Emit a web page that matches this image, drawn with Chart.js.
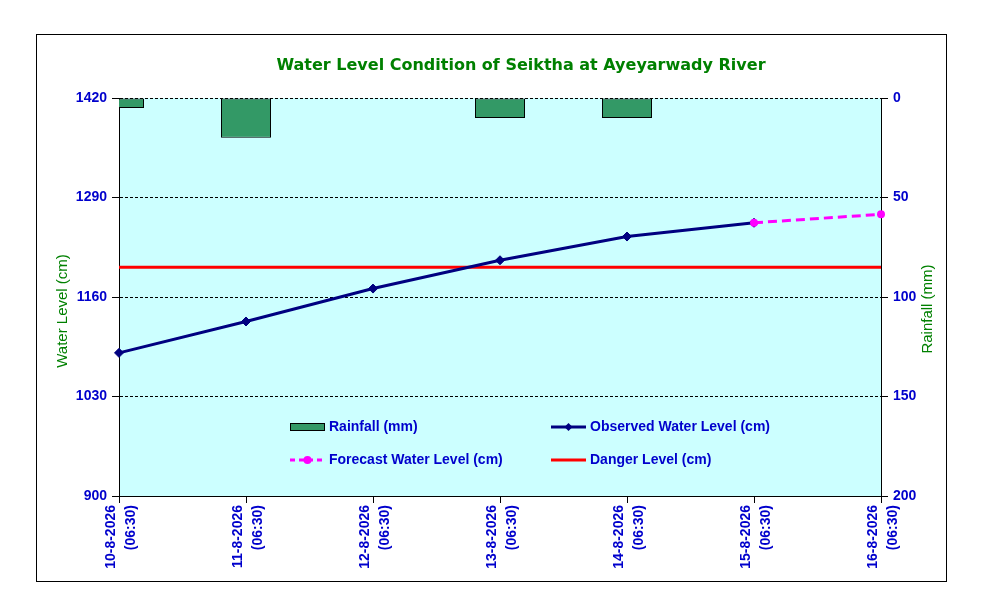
<!DOCTYPE html>
<html><head><meta charset="utf-8">
<script src="https://cdn.jsdelivr.net/npm/chart.js@4"></script>
<style>html,body{margin:0;padding:0;background:#fff}canvas{display:block}</style>
</head><body>
<canvas id="c" width="981" height="605"></canvas>
<script>
// ---- data ----
const dates = ['10-8-2026','11-8-2026','12-8-2026','13-8-2026','14-8-2026','15-8-2026','16-8-2026'];
const times = ['(06:30)','(06:30)','(06:30)','(06:30)','(06:30)','(06:30)','(06:30)'];
const rainfall = [5, 20, null, 10, 10, null, null];
const observed = [1087, 1128, 1171, 1208, 1239, 1257, null];
const forecast = [null, null, null, null, null, 1257, 1268];
const danger = [1199, 1199, 1199, 1199, 1199, 1199, 1199];
const levelTicks = [900, 1030, 1160, 1290, 1420];
const rainTicks = [0, 50, 100, 150, 200];
const titleText = 'Water Level Condition of Seiktha at Ayeyarwady River';
const leftTitle = 'Water Level (cm)';
const rightTitle = 'Rainfall (mm)';
const seriesNames = ['Rainfall (mm)', 'Observed Water Level (cm)', 'Forecast Water Level (cm)', 'Danger Level (cm)'];

const labels = dates.map((d, i) => [d, times[i]]);
const BLUE = '#0000CC', GREEN = '#008000';
const tickFont = {family: '"Liberation Sans", Arial, sans-serif', size: 14, weight: 'bold'};

const decor = {
  id: 'decor',
  beforeDraw(chart) {
    const {ctx, chartArea: a} = chart;
    ctx.save();
    ctx.fillStyle = '#ffffff';
    ctx.fillRect(0, 0, chart.width, chart.height);
    ctx.fillStyle = '#CCFFFF';
    ctx.fillRect(a.left, a.top, a.right - a.left, a.bottom - a.top);
    ctx.strokeStyle = '#000';
    ctx.lineWidth = 1;
    ctx.strokeRect(36.5, 34.5, 910, 547);
    ctx.restore();
  },
  afterDraw(chart) {
    const {ctx} = chart;
    const ds = chart.data.datasets;
    ctx.save();
    // title
    ctx.fillStyle = GREEN;
    ctx.font = 'bold 16px "DejaVu Sans", sans-serif';
    ctx.textAlign = 'center';
    ctx.textBaseline = 'middle';
    ctx.fillText(titleText, 521, 65.5);
    // axis titles
    ctx.font = '15px "Liberation Sans", Arial, sans-serif';
    ctx.save(); ctx.translate(62.5, 311); ctx.rotate(-Math.PI / 2); ctx.fillText(leftTitle, 0, 0); ctx.restore();
    ctx.save(); ctx.translate(928, 309); ctx.rotate(-Math.PI / 2); ctx.fillText(rightTitle, 0, 0); ctx.restore();
    // legend
    ctx.font = 'bold 14px "Liberation Sans", Arial, sans-serif';
    ctx.textAlign = 'left';
    const rows = [427, 460], cols = [290, 551];
    const items = [
      {col: 0, row: 0, d: ds[0], kind: 'box'},
      {col: 1, row: 0, d: ds[1], kind: 'line'},
      {col: 0, row: 1, d: ds[2], kind: 'line'},
      {col: 1, row: 1, d: ds[3], kind: 'line'}
    ];
    items.forEach(it => {
      const x = cols[it.col], y = rows[it.row], w = 35;
      const d = it.d;
      if (it.kind === 'box') {
        ctx.fillStyle = d.backgroundColor;
        ctx.fillRect(x, y - 3.5, w, 7);
        ctx.strokeStyle = '#000'; ctx.lineWidth = 1;
        ctx.strokeRect(x + 0.5, y - 3.5, w - 1, 7);
      } else {
        ctx.strokeStyle = d.borderColor; ctx.lineWidth = d.borderWidth;
        ctx.setLineDash(d.borderDash ? [5, 4] : []);
        ctx.beginPath(); ctx.moveTo(x, y); ctx.lineTo(x + w, y); ctx.stroke();
        ctx.setLineDash([]);
        const cx = x + w / 2;
        if (d.pointStyle === 'rectRot' && d.pointRadius > 0) {
          ctx.fillStyle = d.pointBackgroundColor;
          ctx.beginPath(); ctx.moveTo(cx, y - 4); ctx.lineTo(cx + 4, y); ctx.lineTo(cx, y + 4); ctx.lineTo(cx - 4, y); ctx.closePath(); ctx.fill();
        } else if (d.pointStyle === 'circle' && d.pointRadius > 0) {
          ctx.fillStyle = d.pointBackgroundColor;
          ctx.beginPath(); ctx.arc(cx, y, 4, 0, Math.PI * 2); ctx.fill();
        }
      }
      ctx.fillStyle = BLUE;
      ctx.textBaseline = 'middle';
      ctx.fillText(d.label, x + w + 4, y);
    });
    ctx.restore();
  }
};

new Chart(document.getElementById('c'), {
  data: {
    labels: labels,
    datasets: [
      {type: 'bar', label: seriesNames[0], data: rainfall, yAxisID: 'yR', order: 3,
       backgroundColor: '#339966', borderColor: '#000000', borderWidth: 1, borderSkipped: false,
       barPercentage: 0.394, categoryPercentage: 1},
      {type: 'line', label: seriesNames[1], data: observed, yAxisID: 'y', order: 1,
       borderColor: '#000080', backgroundColor: '#000080', borderWidth: 3,
       pointStyle: 'rectRot', pointRadius: 4.5, pointBackgroundColor: '#000080', pointBorderColor: '#000080',
       pointBorderWidth: 1, spanGaps: false, tension: 0},
      {type: 'line', label: seriesNames[2], data: forecast, yAxisID: 'y', order: 0,
       borderColor: '#FF00FF', backgroundColor: '#FF00FF', borderWidth: 3, borderDash: [9, 5],
       pointStyle: 'circle', pointRadius: 4, pointBorderWidth: 0, pointBackgroundColor: '#FF00FF', pointBorderColor: '#FF00FF',
       tension: 0},
      {type: 'line', label: seriesNames[3], data: danger, yAxisID: 'y', order: 2,
       borderColor: '#FF0000', backgroundColor: '#FF0000', borderWidth: 3, pointRadius: 0, tension: 0}
    ]
  },
  options: {
    responsive: false,
    animation: false,
    layout: {padding: {top: 98, left: 0, right: 0, bottom: 0}},
    plugins: {legend: {display: false}, title: {display: false}, tooltip: {enabled: false}},
    scales: {
      x: {
        type: 'category', offset: false,
        afterFit(s) { s.height = 109; },
        grid: {display: true, offset: false, drawOnChartArea: false, drawTicks: true, tickLength: 7, tickColor: '#000', color: '#000'},
        border: {display: true, color: '#000', width: 1},
        ticks: {autoSkip: false, maxRotation: 90, minRotation: 90, padding: 2, labelOffset: -8,
                color: BLUE, font: Object.assign({lineHeight: 1.43}, tickFont)}
      },
      y: {
        position: 'left', min: levelTicks[0], max: levelTicks[levelTicks.length - 1],
        afterFit(s) { s.width = 119; },
        afterBuildTicks(s) { s.ticks = levelTicks.map(v => ({value: v})); },
        grid: {color: '#000', lineWidth: 1, tickLength: 7, tickColor: '#000', drawTicks: true},
        border: {display: true, color: '#000', width: 1, dash: [3, 2]},
        ticks: {color: BLUE, font: tickFont, padding: 5, callback: v => String(v)}
      },
      yR: {
        position: 'right', reverse: true, min: rainTicks[0], max: rainTicks[rainTicks.length - 1],
        afterFit(s) { s.width = 100; },
        afterBuildTicks(s) { s.ticks = rainTicks.map(v => ({value: v})); },
        grid: {drawOnChartArea: false, tickLength: 7, tickColor: '#000', color: '#000'},
        border: {display: true, color: '#000', width: 1},
        ticks: {color: BLUE, font: tickFont, padding: 5, callback: v => String(v)}
      }
    }
  },
  plugins: [decor]
});
</script>
</body></html>
